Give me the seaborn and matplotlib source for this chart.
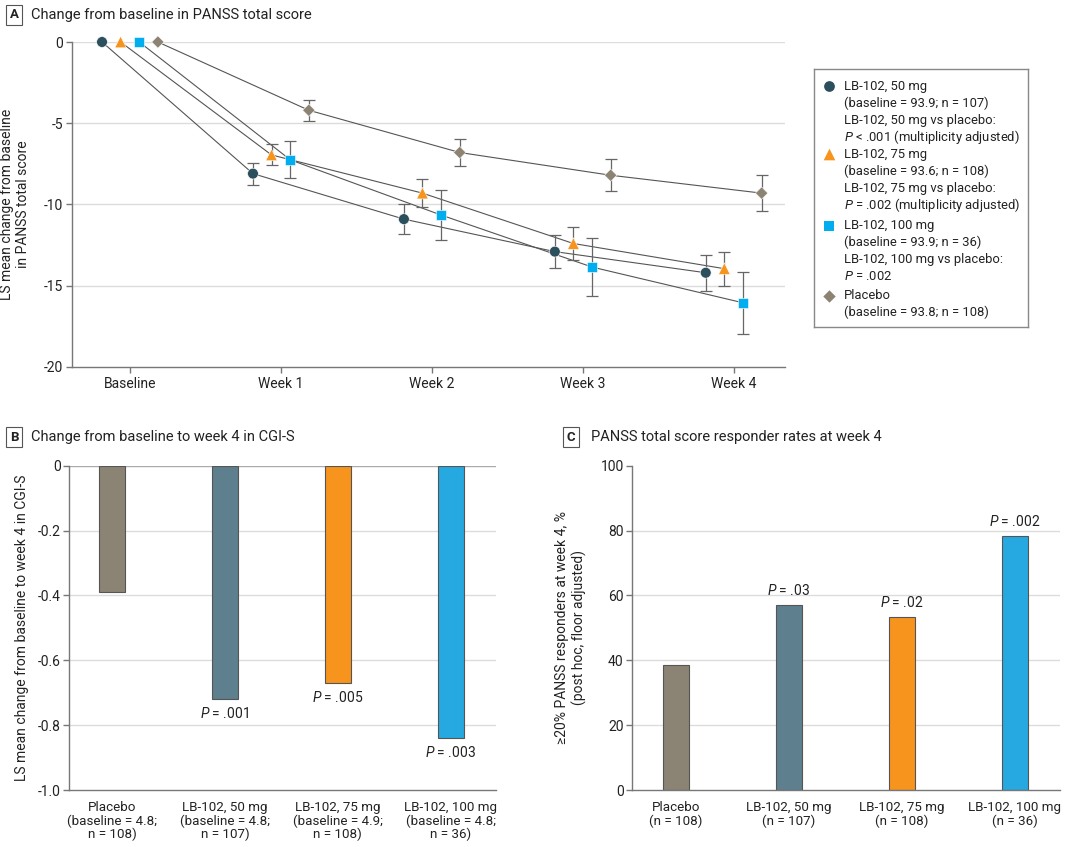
import matplotlib
matplotlib.use("Agg")
import matplotlib.pyplot as plt
import seaborn as sns
import pandas as pd
import numpy as np

sns.set_theme(style="white")
plt.rcParams["font.family"] = ["Roboto", "DejaVu Sans"]
plt.rcParams["axes.unicode_minus"] = False
plt.rcParams["mathtext.fontset"] = "custom"
plt.rcParams["mathtext.it"] = "Roboto:italic"
plt.rcParams["mathtext.rm"] = "Roboto"

# ---- data ----
weeks = ["Baseline", "Week 1", "Week 2", "Week 3", "Week 4"]
arms = ["LB-102, 50 mg", "LB-102, 75 mg", "LB-102, 100 mg", "Placebo"]

panss_50 = [0, -8.1, -10.9, -12.9, -14.2]
err_50 = [0, 0.67, 0.9, 1.0, 1.1]
panss_75 = [0, -6.95, -9.3, -12.4, -13.95]
err_75 = [0, 0.65, 0.86, 1.0, 1.05]
panss_100 = [0, -7.25, -10.65, -13.85, -16.05]
err_100 = [0, 1.15, 1.55, 1.8, 1.9]
panss_pbo = [0, -4.2, -6.8, -8.2, -9.3]
err_pbo = [0, 0.64, 0.85, 1.0, 1.1]

bar_groups = ["Placebo", "LB-102, 50 mg", "LB-102, 75 mg", "LB-102, 100 mg"]
cgi_labels = ["Placebo\n(baseline = 4.8;\nn = 108)", "LB-102, 50 mg\n(baseline = 4.8;\nn = 107)",
              "LB-102, 75 mg\n(baseline = 4.9;\nn = 108)", "LB-102, 100 mg\n(baseline = 4.8;\nn = 36)"]
cgi_change = [-0.39, -0.72, -0.67, -0.84]
cgi_p = ["", "$\\mathit{P}$ = .001", "$\\mathit{P}$ = .005", "$\\mathit{P}$ = .003"]

resp_labels = ["Placebo\n(n = 108)", "LB-102, 50 mg\n(n = 107)", "LB-102, 75 mg\n(n = 108)", "LB-102, 100 mg\n(n = 36)"]
responders = [38.6, 57.1, 53.4, 78.2]
resp_p = ["", "$\\mathit{P}$ = .03", "$\\mathit{P}$ = .02", "$\\mathit{P}$ = .002"]

legend_text = [
    ["LB-102, 50 mg", "(baseline = 93.9; n = 107)", "LB-102, 50 mg vs placebo:",
     "$\\mathit{P}$ < .001 (multiplicity adjusted)"],
    ["LB-102, 75 mg", "(baseline = 93.6; n = 108)", "LB-102, 75 mg vs placebo:",
     "$\\mathit{P}$ = .002 (multiplicity adjusted)"],
    ["LB-102, 100 mg", "(baseline = 93.9; n = 36)", "LB-102, 100 mg vs placebo:",
     "$\\mathit{P}$ = .002"],
    ["Placebo", "(baseline = 93.8; n = 108)"],
]

# ---- styles ----
line_colors = {"LB-102, 50 mg": "#2b4f5c", "LB-102, 75 mg": "#f7941d",
               "LB-102, 100 mg": "#00aeef", "Placebo": "#8c8373"}
bar_colors = {"Placebo": "#8b8373", "LB-102, 50 mg": "#5e7f8e",
              "LB-102, 75 mg": "#f7941d", "LB-102, 100 mg": "#25a9e0"}
markers = {"LB-102, 50 mg": "o", "LB-102, 75 mg": "^", "LB-102, 100 mg": "s", "Placebo": "D"}
msizes = {"LB-102, 50 mg": 60, "LB-102, 75 mg": 70, "LB-102, 100 mg": 50, "Placebo": 40}
offsets = {"LB-102, 50 mg": -0.185, "LB-102, 75 mg": -0.062, "LB-102, 100 mg": 0.062, "Placebo": 0.185}
grid_c = "#dcdcdc"
spine_c = "#777777"
fs = 10

rows = []
for arm, vals, errs in zip(arms, [panss_50, panss_75, panss_100, panss_pbo],
                           [err_50, err_75, err_100, err_pbo]):
    for i, (v, e) in enumerate(zip(vals, errs)):
        rows.append({"arm": arm, "x": i + offsets[arm], "y": v, "err": e})
df = pd.DataFrame(rows)

W, H = 1080, 847
fig = plt.figure(figsize=(W / 100, H / 100), dpi=100)


def px_axes(l, t, r, b):
    return fig.add_axes([l / W, 1 - b / H, (r - l) / W, (b - t) / H])


def style_axes(ax):
    for s in ["top", "right"]:
        ax.spines[s].set_visible(False)
    for s in ["left", "bottom"]:
        ax.spines[s].set_color(spine_c)
        ax.spines[s].set_linewidth(1)
    ax.tick_params(axis="y", which="both", left=True, length=4, width=1, color=spine_c,
                   labelsize=fs, pad=2, labelcolor="#222")
    ax.tick_params(axis="x", labelsize=fs, labelcolor="#222")


def panel_title(x_box, y, letter, text, x_text):
    fig.text(x_box / W, 1 - y / H, letter, fontsize=9.5, fontweight="bold", ha="center", va="center",
             color="#222", bbox=dict(boxstyle="square,pad=0.3", fc="white", ec="#555", lw=0.8))
    fig.text(x_text / W, 1 - y / H, text, fontsize=10.5, ha="left", va="center", color="#222")


# ---- panel A ----
axA = px_axes(71.7, 42, 785, 367)
style_axes(axA)
for y in [0, -5, -10, -15]:
    axA.axhline(y, color=grid_c, lw=1, zorder=0)
sns.lineplot(data=df, x="x", y="y", hue="arm", palette={a: "#555555" for a in arms},
             lw=0.8, legend=False, ax=axA, zorder=2)
for arm in arms:
    d = df[(df["arm"] == arm) & (df["err"] > 0)]
    axA.errorbar(d["x"], d["y"], yerr=d["err"], fmt="none", ecolor="#666666",
                 elinewidth=0.9, capsize=4.5, capthick=0.9, zorder=3)
sns.scatterplot(data=df, x="x", y="y", hue="arm", style="arm", palette=line_colors,
                markers=markers, size="arm", sizes=msizes, edgecolor="white", linewidth=0.4,
                legend=False, ax=axA, zorder=4, clip_on=False)
axA.set_xlim(-0.386, 4.34)
axA.set_ylim(-20, 0)
axA.set_yticks([0, -5, -10, -15, -20])
axA.set_yticklabels(["0", "-5", "-10", "-15", "-20"])
axA.set_xticks(range(len(weeks)))
axA.set_xticklabels(weeks)
axA.tick_params(axis="x", bottom=True, length=4, width=1, color=spine_c, pad=3)
axA.set_xlabel("")
axA.set_ylabel("LS mean change from baseline\nin PANSS total score", fontsize=fs, color="#222", labelpad=10)
for c in axA.collections:
    c.set_clip_on(False)

# legend box
axL = px_axes(814, 69, 1028, 327)
axL.set_xlim(0, 214)
axL.set_ylim(258, 0)
axL.set_xticks([])
axL.set_yticks([])
for s in axL.spines.values():
    s.set_color("#888")
    s.set_linewidth(1)
starts = [17, 85.3, 156.7, 226.7]
for arm, y0, lines in zip(arms, starts, legend_text):
    axL.scatter([15], [y0], marker=markers[arm], s=msizes[arm], color=line_colors[arm], lw=0)
    for j, ln in enumerate(lines):
        axL.text(30, y0 + j * 17, ln, fontsize=9.4, va="center", ha="left", color="#222")

panel_title(14, 15, "A", "Change from baseline in PANSS total score", 31)

# ---- panel B ----
axB = px_axes(69, 465.7, 496, 790)
style_axes(axB)
for y in [-0.2, -0.4, -0.6, -0.8]:
    axB.axhline(y, color=grid_c, lw=1, zorder=0)
axB.axhline(0, color="#aaaaaa", lw=1, zorder=0)
sns.barplot(x=bar_groups, y=cgi_change, hue=bar_groups, palette=bar_colors, width=0.23,
            saturation=1, edgecolor="#555555", linewidth=0.8, legend=False, ax=axB, zorder=2)
axB.set_xlim(-0.38, 3.4)
axB.set_ylim(-1.0, 0)
axB.set_yticks([0, -0.2, -0.4, -0.6, -0.8, -1.0])
axB.set_yticklabels(["0", "-0.2", "-0.4", "-0.6", "-0.8", "-1.0"])
axB.set_xticks(range(4))
axB.set_xticklabels(cgi_labels, linespacing=1.02, fontsize=9.6)
axB.tick_params(axis="x", bottom=False, pad=2)
axB.set_ylabel("LS mean change from baseline to week 4 in CGI-S", fontsize=fs, color="#222", labelpad=6)
for i, (v, p) in enumerate(zip(cgi_change, cgi_p)):
    if p:
        axB.annotate(p, (i, v), xytext=(0, -5), textcoords="offset points", ha="center", va="top",
                     fontsize=fs, color="#222")
panel_title(14, 437, "B", "Change from baseline to week 4 in CGI-S", 31)

# ---- panel C ----
axC = px_axes(632, 465.7, 1060, 790)
style_axes(axC)
for y in [20, 40, 60, 80]:
    axC.axhline(y, color=grid_c, lw=1, zorder=0)
sns.barplot(x=bar_groups, y=responders, hue=bar_groups, palette=bar_colors, width=0.23,
            saturation=1, edgecolor="#555555", linewidth=0.8, legend=False, ax=axC, zorder=2)
axC.set_xlim(-0.387, 3.4)
axC.set_ylim(0, 100)
axC.set_yticks([0, 20, 40, 60, 80, 100])
axC.set_xticks(range(4))
axC.set_xticklabels(resp_labels, linespacing=1.02, fontsize=9.6)
axC.tick_params(axis="x", bottom=False, pad=2)
axC.set_ylabel("\u226520% PANSS responders at week 4, %\n(post hoc, floor adjusted)", fontsize=fs,
               color="#222", labelpad=10)
for i, (v, p) in enumerate(zip(responders, resp_p)):
    if p:
        axC.annotate(p, (i, v), xytext=(0, 5), textcoords="offset points", ha="center", va="bottom",
                     fontsize=fs, color="#222")
panel_title(571, 437, "C", "PANSS total score responder rates at week 4", 591)

fig.savefig("out.png", dpi=100)
